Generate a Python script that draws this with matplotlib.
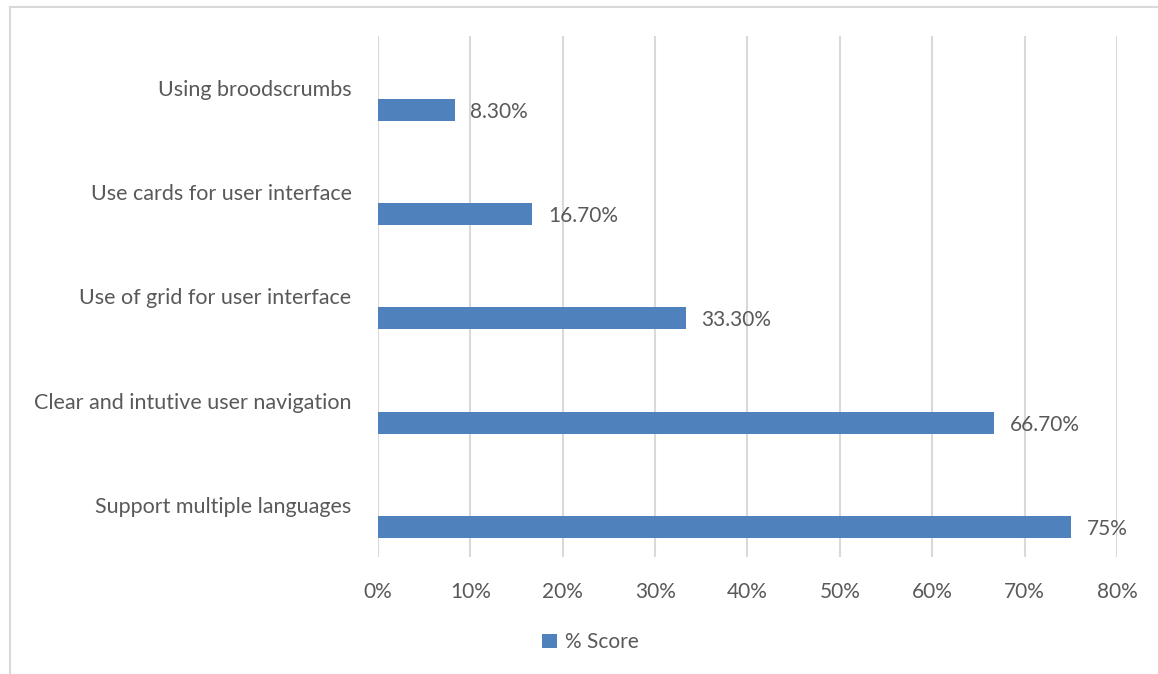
import matplotlib.pyplot as plt
from matplotlib.lines import Line2D
import numpy as np

plt.rcParams['font.family'] = ['Lato', 'DejaVu Sans']

categories = ["Using broodscrumbs", "Use cards for user interface",
              "Use of grid for user interface", "Clear and intutive user navigation",
              "Support multiple languages"]
scores = [8.3, 16.7, 33.3, 66.7, 75]
ticks = np.arange(0, 81, 10)

text_col = "#595959"
bar_col = "#4F81BD"
grid_col = "#D9D9D9"


def pct(v):
    return f"{v:.0f}%" if v == int(v) else f"{v:.2f}%"


fig = plt.figure(figsize=(11.58, 6.74), dpi=100)
ax = fig.add_axes([0.3264, 0.1736, 0.6382, 0.773])

y = np.arange(len(categories))
bar_h = 0.21
bars = ax.barh(y + 0.21, scores, height=bar_h, color=bar_col, label="% Score")

for b, v in zip(bars, scores):
    ax.text(b.get_width() + 1.7, b.get_y() + b.get_height() / 2 + 0.02, pct(v),
            va="center", ha="left", fontsize=15, color=text_col)

ax.set_yticks(y)
ax.set_yticklabels(categories, fontsize=15.5)
ax.set_ylim(len(categories) - 0.5, -0.5)
ax.set_xlim(0, 80)
ax.set_xticks(ticks)
ax.set_xticklabels([f"{t}%" for t in ticks], fontsize=15)
ax.tick_params(axis="both", length=0, colors=text_col)
ax.tick_params(axis="y", pad=19)
ax.tick_params(axis="x", pad=18)
ax.xaxis.grid(True, color=grid_col, linewidth=1.5)
ax.set_axisbelow(True)
for s in ax.spines.values():
    s.set_visible(False)

fig.legend(handles=[bars], labels=["% Score"], loc="center", bbox_to_anchor=(0.51, 0.047),
           frameon=False, fontsize=15, handlelength=0.7, handleheight=0.7,
           handletextpad=0.4, labelcolor=text_col)

# light chart-area border
fig.add_artist(Line2D([10 / 1158, 10 / 1158], [0, 1 - 7 / 674], transform=fig.transFigure,
                      color=grid_col, linewidth=1.5))
fig.add_artist(Line2D([10 / 1158, 1], [1 - 7 / 674, 1 - 7 / 674], transform=fig.transFigure,
                      color=grid_col, linewidth=1.5))

fig.savefig("out.png", dpi=100)
